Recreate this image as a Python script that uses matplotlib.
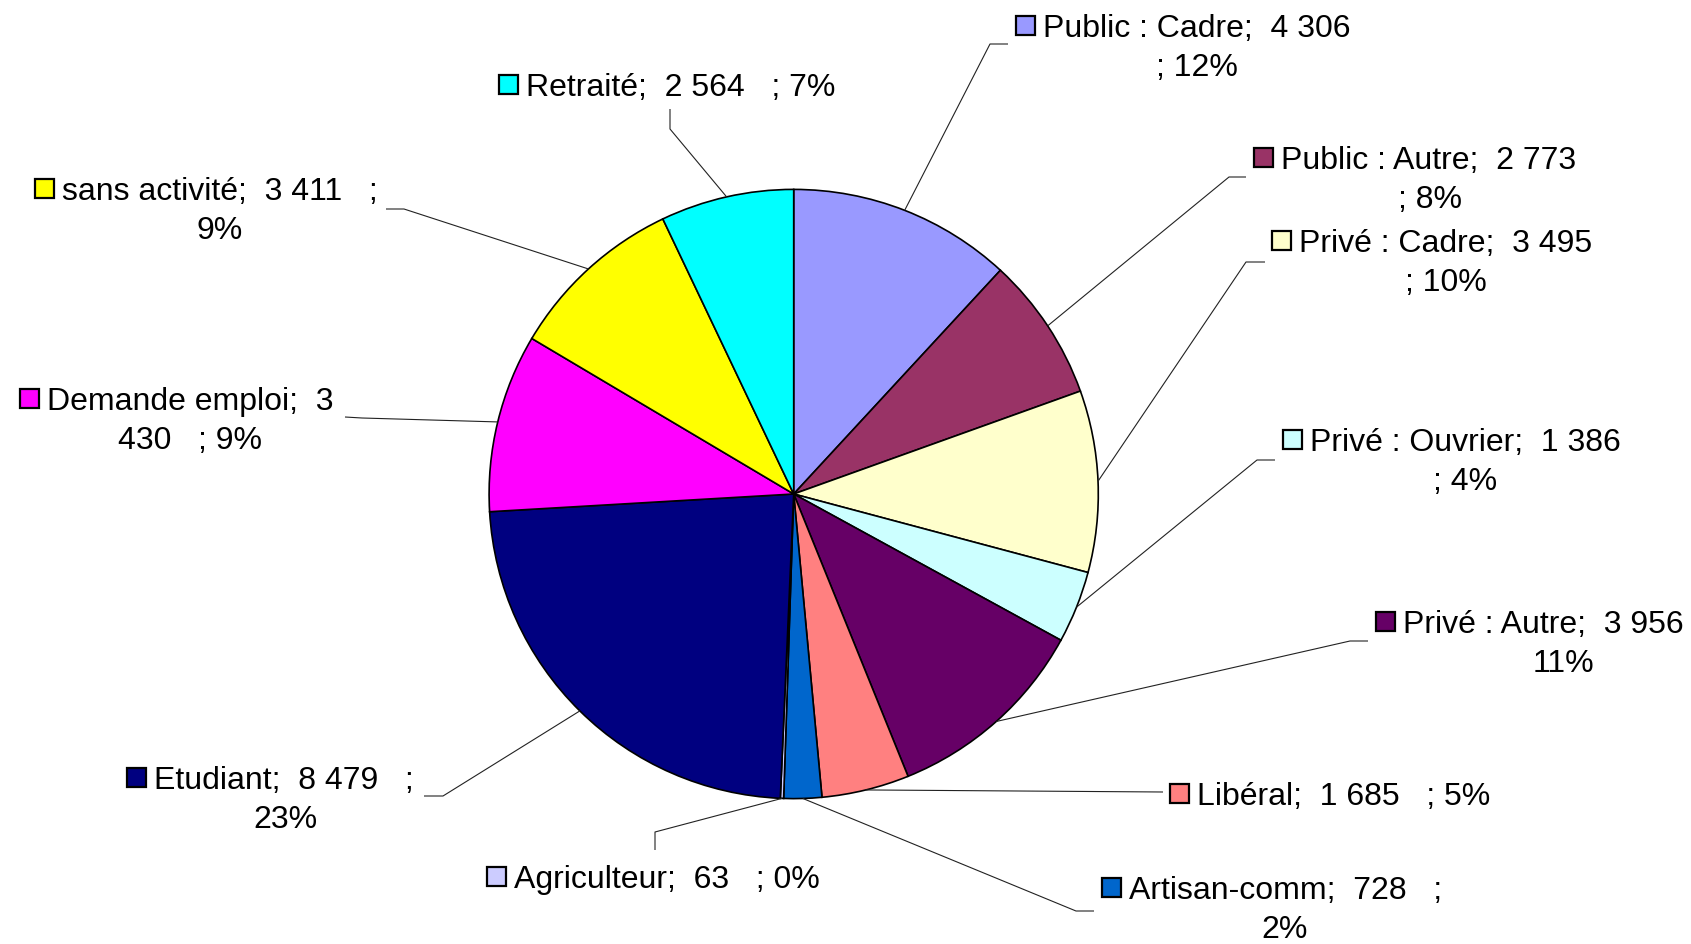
import matplotlib
matplotlib.use("Agg")
import matplotlib.pyplot as plt
from matplotlib.patches import Rectangle
import numpy as np

# ---------------- data ----------------
categories = ["Public : Cadre", "Public : Autre", "Privé : Cadre", "Privé : Ouvrier",
              "Privé : Autre", "Libéral", "Artisan-comm", "Agriculteur",
              "Etudiant", "Demande emploi", "sans activité", "Retraité"]
values = [4306, 2773, 3495, 1386, 3956, 1685, 728, 63, 8479, 3430, 3411, 2564]
colors = ["#9999FF", "#993366", "#FFFFCC", "#CCFFFF", "#660066", "#FF8080",
          "#0066CC", "#CCCCFF", "#000080", "#FF00FF", "#FFFF00", "#00FFFF"]

# ---------------- layout (pixel coords, y downward) ----------------
W, H = 1691, 945
CX, CY, R = 793.7, 495.0, 304.6
text_left = [1043, 1281, 1299, 1310, 1403, 1197, 1129, 514, 154, 47, 61.5, 526]
text_y = [26, 158.5, 241.5, 440, 622, 794, 888, 877, 778, 399, 189, 85]
line2_cx = [1197, 1430, 1446, 1465, 1563, None, 1285, None, 285, 190, 220, None]
line_gap = 39
wrap = ["value", "value", "value", "value", "cut", "none", "semi", "none",
        "semi", "num", "semi", "none"]
leaders = [[(990, 45), (1008, 45)],
           [(1229, 178), (1246, 178)],
           [(1246, 263), (1265, 263)],
           [(1257, 461), (1275, 461)],
           [(1350, 642), (1368, 642)],
           [(1163, 793)],
           [(1076, 912), (1094, 912)],
           [(655, 833), (655, 851)],
           [(443, 797), (424, 797)],
           [(362, 419), (345, 418)],
           [(404, 210), (386, 210)],
           [(670, 130), (670, 110)]]

FONT = "Liberation Sans"
FS = 23.0
PAD = "   "

fig = plt.figure(figsize=(W / 100, H / 100), dpi=100)
ax = fig.add_axes([0, 0, 1, 1])

wedges, _ = ax.pie(values, colors=colors, startangle=90, counterclock=False,
                   center=(CX, H - CY), radius=R, frame=True,
                   wedgeprops=dict(edgecolor="black", linewidth=1.2))
ax.set_xlim(0, W)
ax.set_ylim(0, H)
ax.set_aspect("equal")
ax.axis("off")

total = sum(values)
cum = 0
for i, (cat, v) in enumerate(zip(categories, values)):
    mid = 90 - 360 * (cum + v / 2) / total
    cum += v
    sx = CX + R * np.cos(np.radians(mid))
    sy = CY - R * np.sin(np.radians(mid))
    pts = [(sx, sy)] + leaders[i]
    ax.plot([p[0] for p in pts], [H - p[1] for p in pts], color="#222222",
            lw=0.8, solid_capstyle="butt", zorder=1)

    vs = f"{v:,}".replace(",", " ")
    p = round(v / total * 100)
    mode = wrap[i]
    if mode == "value":
        l1, l2 = f"{cat};  {vs}", f"; {p}%"
    elif mode == "cut":
        l1, l2 = f"{cat};  {vs}", f"{p}%"
    elif mode == "semi":
        l1, l2 = f"{cat};  {vs}{PAD};", f"{p}%"
    elif mode == "num":
        a, b = vs.split(" ", 1)
        l1, l2 = f"{cat};  {a}", f"{b}{PAD}; {p}%"
    else:
        l1, l2 = f"{cat};  {vs}{PAD}; {p}%", None

    tx, ty = text_left[i], text_y[i]
    ax.text(tx, H - (ty + 11), l1, fontsize=FS, family=FONT, ha="left",
            va="baseline", color="black")
    if l2 is not None:
        ax.text(line2_cx[i], H - (ty + line_gap + 11), l2, fontsize=FS,
                family=FONT, ha="center", va="baseline", color="black")
    sq = 19
    ax.add_patch(Rectangle((tx - 27, H - (ty + sq / 2)), sq, sq,
                           facecolor=colors[i], edgecolor="black", lw=1.6,
                           zorder=3))

fig.savefig("out.png", dpi=100, facecolor="white")
